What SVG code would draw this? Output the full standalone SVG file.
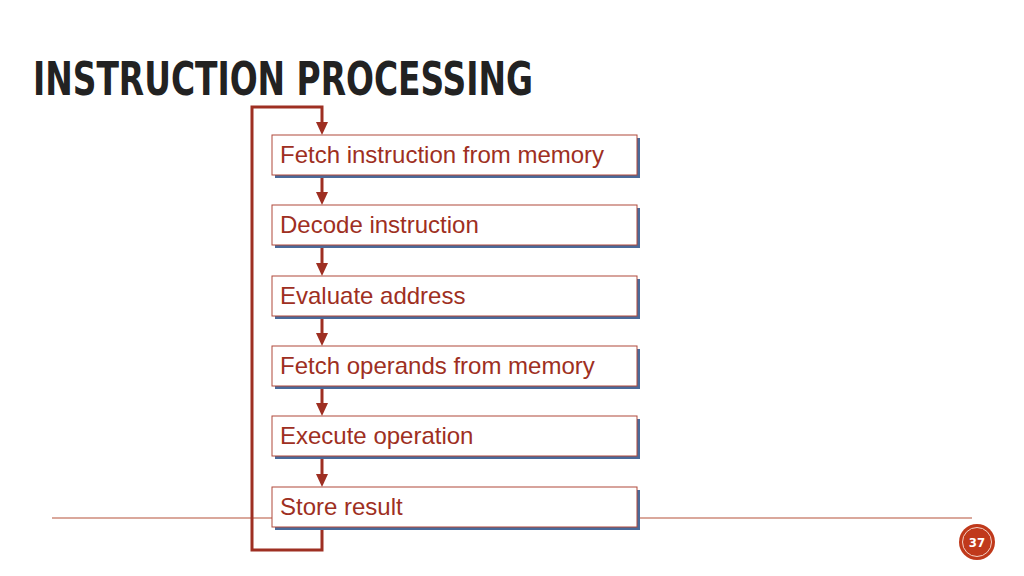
<svg xmlns="http://www.w3.org/2000/svg" width="1024" height="576" viewBox="0 0 1024 576">
<defs>
<marker id="ah" markerWidth="10" markerHeight="10" refX="5" refY="8" orient="auto" markerUnits="userSpaceOnUse" viewBox="0 0 10 10"><path d="M0,0 L10,0 L5,9 Z" fill="#9e2f22" transform="rotate(-90 5 5)"/></marker>
<style>
.box{fill:#fff;stroke:#b0493a;stroke-width:1}
.sh{fill:#4a6a9a}
.lbl{font-family:"Liberation Sans",Arial,sans-serif;font-size:24px;fill:#9e2f22}
.c{stroke:#9e2f22;stroke-width:3;fill:none}
</style>
</defs>
<rect width="1024" height="576" fill="#fff"/>
<text x="33" y="95" font-family="'DejaVu Sans Condensed','DejaVu Sans',sans-serif" font-stretch="condensed" font-weight="bold" font-size="46" fill="#222" textLength="500" lengthAdjust="spacingAndGlyphs">INSTRUCTION PROCESSING</text>
<line x1="52" y1="518" x2="972" y2="518" stroke="#b5533a" stroke-width="1.2"/>
<g id="connectors">
<path class="c" d="M322,527 V550 H252 V107 H322 V124"/>
<path d="M316,122 L328,122 L322,135 Z" fill="#9e2f22"/>
<g id="arrows">
<line class="c" x1="322" y1="175" x2="322" y2="194"/><path d="M316,192 L328,192 L322,205 Z" fill="#9e2f22"/>
<line class="c" x1="322" y1="245" x2="322" y2="265"/><path d="M316,263 L328,263 L322,276 Z" fill="#9e2f22"/>
<line class="c" x1="322" y1="316" x2="322" y2="335"/><path d="M316,333 L328,333 L322,346 Z" fill="#9e2f22"/>
<line class="c" x1="322" y1="386" x2="322" y2="405"/><path d="M316,403 L328,403 L322,416 Z" fill="#9e2f22"/>
<line class="c" x1="322" y1="456" x2="322" y2="476"/><path d="M316,474 L328,474 L322,487 Z" fill="#9e2f22"/>
</g>
</g>
<g id="n1"><rect class="sh" x="275" y="138" width="365" height="40"/><rect class="box" x="272" y="135" width="365" height="40"/><text class="lbl" x="280" y="163">Fetch instruction from memory</text></g>
<g id="n2"><rect class="sh" x="275" y="208" width="365" height="40"/><rect class="box" x="272" y="205" width="365" height="40"/><text class="lbl" x="280" y="233">Decode instruction</text></g>
<g id="n3"><rect class="sh" x="275" y="279" width="365" height="40"/><rect class="box" x="272" y="276" width="365" height="40"/><text class="lbl" x="280" y="304">Evaluate address</text></g>
<g id="n4"><rect class="sh" x="275" y="349" width="365" height="40"/><rect class="box" x="272" y="346" width="365" height="40"/><text class="lbl" x="280" y="374">Fetch operands from memory</text></g>
<g id="n5"><rect class="sh" x="275" y="419" width="365" height="40"/><rect class="box" x="272" y="416" width="365" height="40"/><text class="lbl" x="280" y="444">Execute operation</text></g>
<g id="n6"><rect class="sh" x="275" y="490" width="365" height="40"/><rect class="box" x="272" y="487" width="365" height="40"/><text class="lbl" x="280" y="515">Store result</text></g>
<g id="page"><circle cx="977" cy="542" r="18" fill="#c0391b"/><circle cx="977" cy="542" r="14.5" fill="none" stroke="#f3d0c4" stroke-width="1"/><text x="977" y="547" text-anchor="middle" font-family="'DejaVu Sans Condensed','DejaVu Sans',sans-serif" font-weight="bold" font-size="13" fill="#fff">37</text></g>
</svg>
